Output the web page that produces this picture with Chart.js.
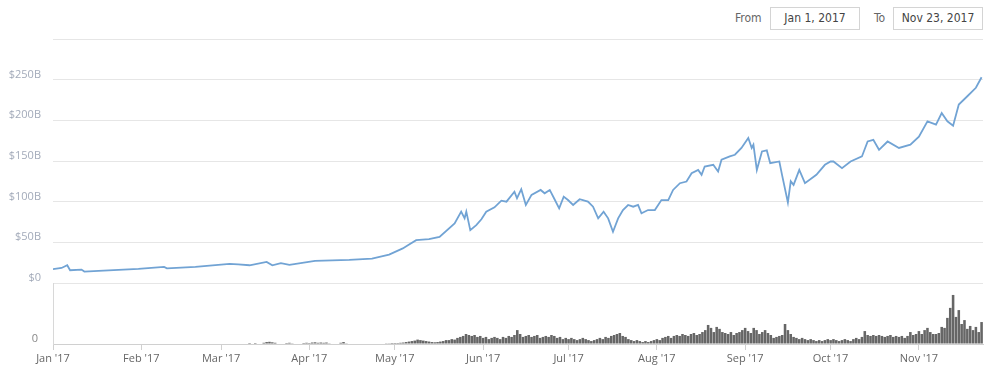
<!DOCTYPE html>
<html>
<head>
<meta charset="utf-8">
<script src="https://cdn.jsdelivr.net/npm/chart.js@4.4.1/dist/chart.umd.min.js"></script>
<style>
    body { margin: 0; background: #fff; width: 1000px; height: 374px; overflow: hidden; position: relative; }
    #range { position: absolute; top: 7px; left: 0; width: 1000px; height: 24px; font-family: "DejaVu Sans", sans-serif; font-stretch: condensed; font-size: 12px; color: #666; }
    #range .lbl { position: absolute; top: 4px; }
    #range .box { position: absolute; top: 0; width: 88px; height: 21px; line-height: 21px; border: 1px solid #d4d4d4; text-align: center; color: #444; }
    #chart { position: absolute; left: 0; top: 0; }
</style>
</head>
<body>
<div id="range">
    <span class="lbl" style="left:735px">From</span>
    <div class="box" style="left:770px">Jan 1, 2017</div>
    <span class="lbl" style="left:874px">To</span>
    <div class="box" style="left:893px">Nov 23, 2017</div>
</div>
<canvas id="chart" width="1000" height="374"></canvas>
<script>
// days since Jan 1 2017
var monthDays = [0, 31, 59, 90, 120, 151, 181, 212, 243, 273, 304];
var monthLabels = ["Jan '17", "Feb '17", "Mar '17", "Apr '17", "May '17", "Jun '17", "Jul '17", "Aug '17", "Sep '17", "Oct '17", "Nov '17"];

// market cap, $B
var capDays = [0, 3, 5, 6, 10, 11, 16, 30, 39, 40, 50, 62, 65, 69, 75, 77, 80, 83, 92, 104, 112,
    118, 122.8, 124.6, 127.5, 132, 135.7, 141, 143.3, 144.5, 145.1, 146.5, 148.6, 150.4, 152.1, 155, 157.4,
    159.2, 162, 162.9, 164.4, 166, 168, 171.2, 172.6, 174.4, 175.9, 177.7, 179.3, 180.8, 182.6, 184.9,
    187.8, 189.6, 191.4, 193.3, 194.9, 196.6, 198.4, 200.1, 201.9, 203.7, 205.4, 206.6, 208.9, 211.3,
    213.6, 216, 217.7, 220.1, 222.4, 224.2, 226.5, 227.7, 228.8, 231.8, 233.5, 234.7, 237.6, 239.4,
    241.7, 244.1, 245.3, 245.9, 247.1, 248.9, 250.6, 251.8, 255, 256,
    258, 259, 260, 262, 264, 268, 271, 273, 274, 277, 280, 284, 286, 288, 290, 293, 297, 301, 304, 307,
    310, 312, 314, 316, 318, 321, 324, 326];
var capValues = [17, 18.5, 21.8, 15.7, 16.5, 14.1, 14.8, 17.3, 19.8, 18.1, 19.8, 23.5, 23, 21.8, 26, 21.8, 24.3, 22.2, 27.2, 28.5, 30,
    35, 42.5, 46.5, 52.7, 54, 56.8, 73.3, 87.7, 79.5, 87.7, 65, 71.2, 78.3, 87.7, 93, 101.2,
    100, 112.3, 104.2, 115.3, 95.9, 108.3, 114.4, 110.3, 114.4, 104.2, 91.8, 106.2, 102, 95.9, 103,
    100, 93.8, 79.5, 87.7, 79.5, 63, 79.5, 89.7, 95.9, 93.8, 95.9, 85.6, 89.7, 89.7,
    102, 102, 114.4, 122.7, 124.7, 135, 139, 133, 143.2, 145.3, 137, 151.5, 155.6, 157.7,
    166, 178.3, 166, 170, 139, 161.7, 163, 147.4, 149.4, 132,
    99, 125, 120.6, 139, 122.7, 133, 145.3, 149.4, 149.4, 141.2, 149.4, 155.6, 174, 176, 163.8, 174, 166, 170, 180, 198.8,
    194.7, 209, 198.8, 193.5, 219.4, 229.6, 240, 253];

// 24h volume, $B, one value per day from volStartDay
var volStartDay = 69;
var volValues = [
    0.4, 0, 0.4, 0, 0, 0.5, 0.8, 0.9, 0.7, 0.5, 0, 0, 0, 0.4, 0.5, 0.3, 0, 0, 0, 0.4,
    0.5, 0.4, 0.6, 0.7, 0.5, 0.6, 0.5, 0.6, 0.3, 0, 0, 0, 0.5, 0.8, 0.3, 0, 0, 0, 0, 0,
    0, 0, 0, 0, 0, 0, 0, 0,
    0.3, 0.3, 0.4, 0.4, 0.4, 0.5, 0.6, 0.8, 1.0, 1.2, 1.4, 1.8, 1.6, 1.4,
    1.2, 1.0, 0.8, 0.7, 0.8, 1.0, 1.2,
    1.6, 1.6, 2.0, 1.8, 2.5, 2.9, 3.3, 4.1, 3.7, 3.3, 3.7, 2.9, 3.3,
    2.5, 2.9, 2.0, 2.5, 2.9, 2.5, 2.0, 2.9, 2.5, 3.3, 2.9, 3.7,
    5.7, 4.1, 2.9,
    3.3, 3.7, 2.9, 3.3, 3.7, 2.5, 2.9, 3.3, 2.9, 3.7, 3.3, 2.5, 2.9, 2.0, 2.5,
    2.0, 2.5, 2.0, 1.6, 2.0, 2.5, 2.0, 1.6, 1.2, 1.6, 2.0, 2.5, 2.0, 2.9, 2.5,
    3.3, 3.7, 4.1, 4.5, 3.3, 2.9,
    2.0, 1.6, 1.2, 1.6, 1.2, 0.8, 1.2, 0.8, 1.2, 1.6, 2.0, 1.6, 2.5,
    2.9, 3.3, 2.5, 3.3, 3.7, 3.3, 4.1, 3.7, 3.3, 4.1, 4.5, 3.7, 4.1, 4.9,
    5.7, 7.8, 6.6, 4.9, 7.0, 6.2, 4.9, 4.5, 4.1, 4.9, 3.7, 4.5,
    4.9, 5.7, 6.6, 5.3, 4.5, 6.6, 5.7, 4.1, 4.9, 5.7, 4.5, 3.7,
    2.5, 2.9, 3.3, 3.7, 8.2, 5.7, 4.1, 2.9,
    2.5, 2.0, 2.5, 2.0, 1.6, 2.0, 1.6, 1.2, 1.6, 1.2, 1.6, 2.0,
    1.6, 2.0, 1.6, 1.2, 1.6, 2.0, 1.6, 1.2, 2.0, 2.5, 2.0,
    2.9, 5.3, 3.7, 3.3, 3.7, 3.3, 3.7, 3.3, 2.9, 3.3, 3.7, 2.9,
    3.3, 2.9, 3.3, 2.5, 3.3, 4.9, 3.7, 4.1, 5.3, 4.1,
    5.7, 6.6, 4.9, 4.1, 4.1, 4.5, 7.0, 6.6, 10.7, 14.8,
    20.1, 11.1, 13.9, 8.2, 9.8, 6.2, 7.4, 5.7, 7.0, 4.9, 9.0
];

var capData = capDays.map(function (d, i) { return { x: d, y: capValues[i] }; });
var volData = volValues.map(function (v, i) { return { x: volStartDay + i, y: v }; });

var axisFont = { family: "'Open Sans', sans-serif", size: 11 };

new Chart(document.getElementById('chart'), {
    data: {
        datasets: [
            {
                type: 'line',
                data: capData,
                yAxisID: 'y',
                borderColor: '#71a3d4',
                borderWidth: 1.8,
                pointRadius: 0,
                tension: 0
            },
            {
                type: 'bar',
                data: volData,
                yAxisID: 'y2',
                backgroundColor: '#666666',
                barPercentage: 0.9,
                categoryPercentage: 1
            }
        ]
    },
    options: {
        responsive: false,
        animation: false,
        devicePixelRatio: 1,
        layout: { padding: { top: 39, right: 17, left: 0, bottom: 0 } },
        plugins: { legend: { display: false }, tooltip: { enabled: false } },
        scales: {
            x: {
                type: 'linear',
                min: 0,
                max: 326.5,
                offset: false,
                afterBuildTicks: function (scale) {
                    scale.ticks = monthDays.map(function (d) { return { value: d }; });
                },
                afterFit: function (scale) { scale.height = 30; },
                ticks: {
                    color: '#666',
                    font: axisFont,
                    padding: 2,
                    maxRotation: 0,
                    autoSkip: false,
                    callback: function (v) { return monthLabels[monthDays.indexOf(v)]; }
                },
                grid: { drawOnChartArea: false, drawTicks: true, tickLength: 6, color: '#d0d0d0', offset: false },
                border: { color: '#d0d0d0' }
            },
            y2: {
                position: 'left',
                stack: 'main',
                stackWeight: 1,
                min: 0,
                max: 25,
                afterFit: function (scale) { scale.width = 53; },
                afterBuildTicks: function (scale) { scale.ticks = [{ value: 0 }]; },
                ticks: { color: '#888', font: axisFont, padding: 15, labelOffset: -5 },
                grid: { color: '#d8d8d8', drawTicks: false },
                border: { color: '#d8d8d8' }
            },
            y: {
                position: 'left',
                stack: 'main',
                stackWeight: 4,
                min: 0,
                max: 300,
                afterFit: function (scale) { scale.width = 53; },
                ticks: {
                    stepSize: 50,
                    color: '#a3abba',
                    font: axisFont,
                    padding: 12,
                    labelOffset: -5,
                    callback: function (v) {
                        if (v === 0) return '$0';
                        if (v === 300) return '';
                        return '$' + v + 'B';
                    }
                },
                grid: { color: '#e6e6e6', drawTicks: false },
                border: { display: false }
            }
        }
    }
});
</script>
</body>
</html>
